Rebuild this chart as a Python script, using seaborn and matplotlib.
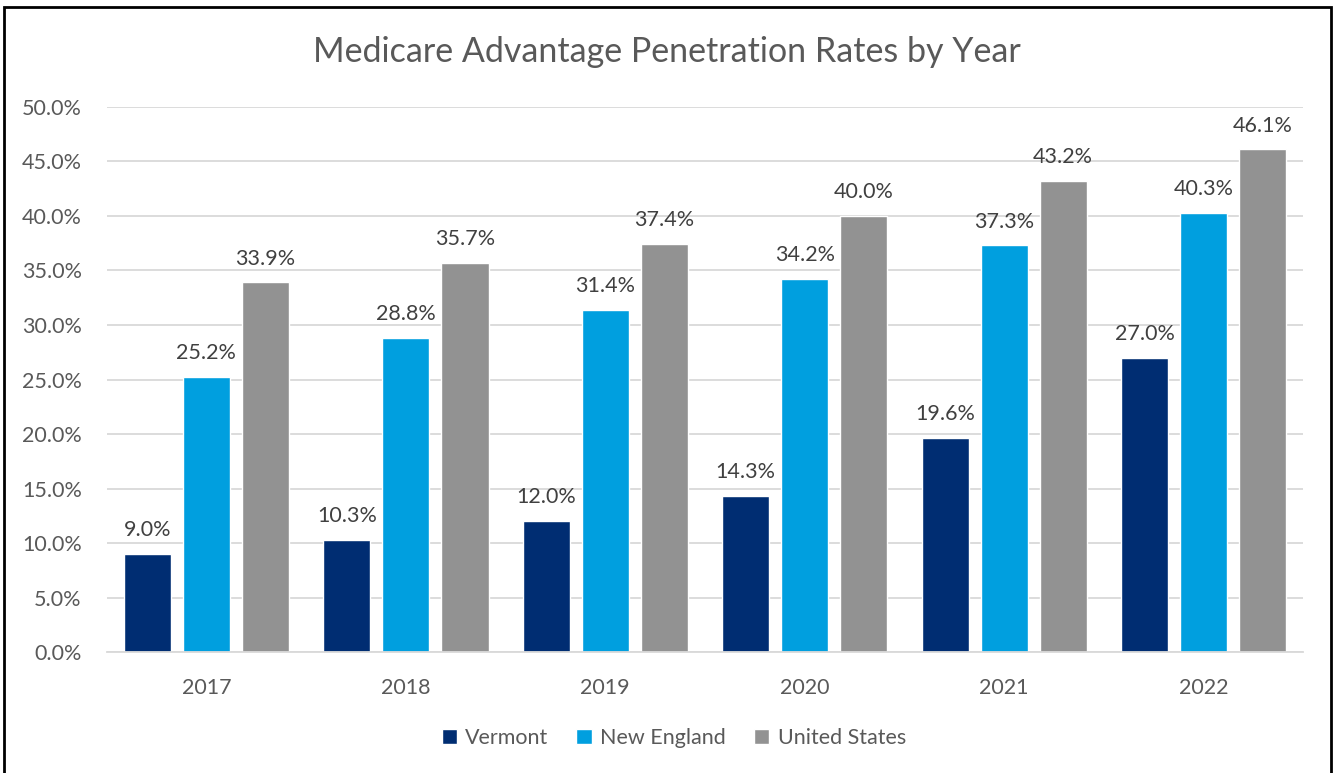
import matplotlib.pyplot as plt
import matplotlib.ticker as mtick
import pandas as pd
import seaborn as sns

years = ['2017', '2018', '2019', '2020', '2021', '2022']
vermont = [9.0, 10.3, 12.0, 14.3, 19.6, 27.0]
new_england = [25.2, 28.8, 31.4, 34.2, 37.3, 40.3]
united_states = [33.9, 35.7, 37.4, 40.0, 43.2, 46.1]
series = ['Vermont', 'New England', 'United States']
colors = ['#002D72', '#009FDF', '#929292']

df = pd.DataFrame({
    'Year': years * 3,
    'Series': [s for s in series for _ in years],
    'Rate': vermont + new_england + united_states,
})

sns.set_style('white')
plt.rcParams['font.family'] = ['Lato', 'DejaVu Sans']
text_col = '#595959'

fig = plt.figure(figsize=(13.34, 7.73), dpi=100)
ax = fig.add_axes([0.080, 0.1565, 0.897, 0.7051])

sns.barplot(data=df, x='Year', y='Rate', hue='Series', palette=colors,
            width=0.888, gap=0.2, ax=ax, legend=True, saturation=1)

for cont in ax.containers:
    ax.bar_label(cont, labels=[f'{v:.1f}%' for v in cont.datavalues],
                 padding=10, fontsize=15.5, color='#404040')

ax.set_ylim(0, 50)
ax.set_yticks(range(0, 51, 5))
ax.yaxis.set_major_formatter(mtick.FuncFormatter(lambda v, p: f'{v:.1f}%'))
ax.grid(axis='y', color='#D9D9D9', linewidth=1.3)
ax.set_axisbelow(True)
for s in ['top', 'right', 'left']:
    ax.spines[s].set_visible(False)
ax.spines['bottom'].set_color('#D9D9D9')
ax.spines['bottom'].set_linewidth(1.3)
ax.tick_params(axis='both', length=0, labelsize=15.5, colors=text_col)
ax.tick_params(axis='x', pad=19)
ax.tick_params(axis='y', pad=18)
ax.set_xlabel('')
ax.set_ylabel('')

ax.legend(loc='center', bbox_to_anchor=(0.505, 0.045), bbox_transform=fig.transFigure,
          ncol=3, frameon=False, fontsize=15.5, labelcolor=text_col,
          handlelength=0.7, handleheight=0.7, handletextpad=0.4, columnspacing=1.3)

fig.suptitle('Medicare Advantage Penetration Rates by Year', x=0.5, y=0.933, va='center',
             fontsize=24.5, color=text_col)

border = plt.Rectangle((0.003, -0.01), 0.995, 1.001, transform=fig.transFigure,
                       fill=False, edgecolor='black', linewidth=2)
fig.patches.append(border)

fig.savefig('out.png', dpi=100)
